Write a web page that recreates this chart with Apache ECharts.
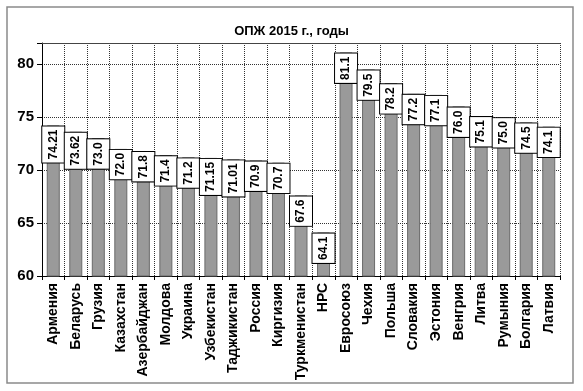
<!DOCTYPE html>
<html>
<head>
<meta charset="utf-8">
<script src="https://cdn.jsdelivr.net/npm/echarts@6/dist/echarts.min.js"></script>
<style>html,body{margin:0;padding:0;background:#fff}#c{width:583px;height:391px}</style>
</head>
<body>
<div id="c"></div>
<script>
const titleText = 'ОПЖ 2015 г., годы';
const categories = ['Армения','Беларусь','Грузия','Казахстан','Азербайджан','Молдова','Украина','Узбекистан','Таджикистан','Россия','Киргизия','Туркменистан','НРС','Евросоюз','Чехия','Польша','Словакия','Эстония','Венгрия','Литва','Румыния','Болгария','Латвия'];
const values = [74.21,73.62,73.0,72.0,71.8,71.4,71.2,71.15,71.01,70.9,70.7,67.6,64.1,81.1,79.5,78.2,77.2,77.1,76.0,75.1,75.0,74.5,74.1];
const yTicks = [60,65,70,75,80];

const chart = echarts.init(document.getElementById('c'));
const font = 'Liberation Sans, Arial, sans-serif';
chart.setOption({
  animation: false,
  backgroundColor: '#fff',
  title: { text: titleText, left: 'center', top: 20, textStyle: { fontFamily: font, fontSize: 13, fontWeight: 'bold', color: '#000' } },
  graphic: [{ type: 'rect', shape: { x: 7, y: 7, width: 566, height: 376 }, style: { fill: 'none', stroke: '#8a8a8a', lineWidth: 1.5 } }],
  grid: { left: 42, right: 23, top: 43, bottom: 115 },
  xAxis: [{
    type: 'category', data: categories,
    axisLine: { lineStyle: { color: '#000', width: 1 } },
    axisTick: { show: true, length: 4, lineStyle: { color: '#000' } },
    splitLine: { show: true, lineStyle: { type: 'dotted', color: '#333', width: 1 } },
    axisLabel: { rotate: 90, interval: 0, fontFamily: font, fontSize: 14, fontWeight: 'bold', color: '#000', margin: 7 }
  }, {
    type: 'category', data: categories, position: 'top',
    axisLine: { lineStyle: { color: '#444', width: 1 } }, axisTick: { show: false }, axisLabel: { show: false }
  }],
  yAxis: {
    type: 'value', min: 60, max: 82, interval: 5,
    axisLine: { show: true, lineStyle: { color: '#000' } },
    axisTick: { show: true, length: 5, lineStyle: { color: '#000' } },
    splitLine: { show: true, lineStyle: { type: 'dotted', color: '#333' } },
    axisLabel: { fontFamily: font, fontSize: 15, fontWeight: 'bold', color: '#000', margin: 8,
      formatter: v => yTicks.includes(v) ? String(v) : '' }
  },
  series: [{
    type: 'bar', data: values, barWidth: 13,
    itemStyle: { color: '#9a9a9a', borderColor: '#6a6a6a', borderWidth: 1 },
    label: {
      show: true, position: 'insideTop', distance: 1, rotate: 90, align: 'right', verticalAlign: 'middle',
      formatter: p => { const v = p.value; return Math.abs(Math.round(v*10) - v*10) > 1e-6 ? v.toFixed(2) : v.toFixed(1); },
      fontFamily: font, fontSize: 12, fontWeight: 'bold', color: '#000',
      backgroundColor: '#fff', borderColor: '#000', borderWidth: 1, padding: [5, 3, 5, 3]
    }
  }]
});
</script>
</body>
</html>
